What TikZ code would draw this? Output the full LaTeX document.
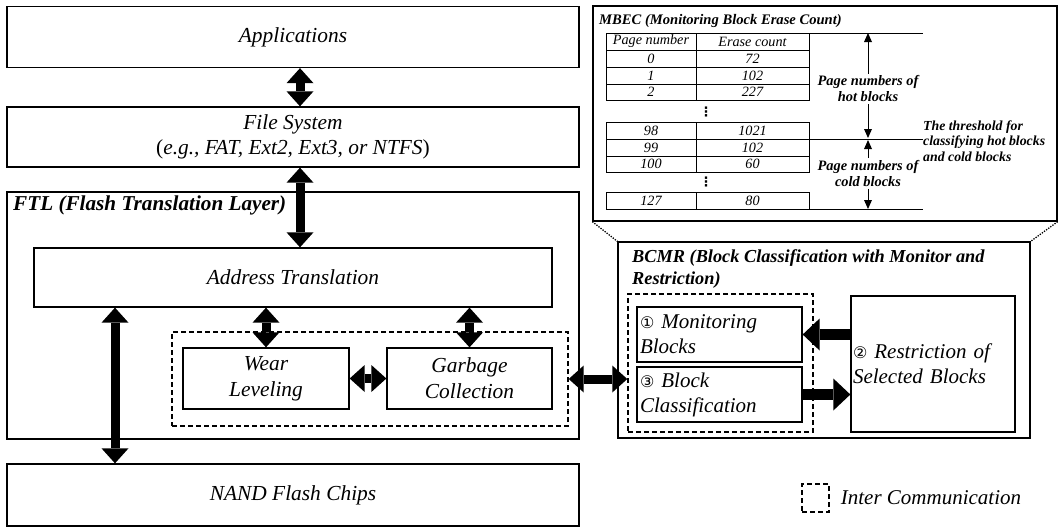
\documentclass[tikz,border=0pt]{standalone}
\usepackage{fontspec}
\setmainfont{Liberation Serif}
\newfontfamily\circfont{DejaVu Sans}
\usetikzlibrary{arrows.meta,positioning}

\newcommand{\numc}[1]{{\circfont\fontsize{16}{16}\selectfont #1}}

\begin{document}
\begin{tikzpicture}[x=1pt,y=-1pt,
  layer/.style={draw,line width=1.3pt,minimum width=572pt,align=center,font=\fontsize{21.4}{25}\selectfont\itshape},
  unit/.style={draw,line width=1.3pt,align=center,inner sep=2pt,font=\fontsize{21.4}{26}\selectfont\itshape},
  part/.style={draw,line width=1.3pt,align=left,inner sep=3pt,font=\fontsize{21}{25}\selectfont\itshape},
  frame/.style={draw,line width=1.3pt,inner sep=0pt},
  group/.style={draw,line width=1.4pt,dash pattern=on 5pt off 3pt,inner sep=0pt},
  title/.style={anchor=west,inner sep=0pt,align=left,font=\fontsize{18.3}{22}\selectfont\bfseries\itshape},
  note/.style={inner sep=2pt,align=center,font=\fontsize{14.4}{16}\selectfont\bfseries\itshape},
  cell/.style={inner sep=0pt,font=\fontsize{14.2}{14}\selectfont\itshape},
  skip/.style={inner sep=0pt,font=\circfont\bfseries\fontsize{13}{13}\selectfont},
  fat/.style={{Triangle[length=15pt,width=27pt,line width=0pt]}-{Triangle[length=15pt,width=27pt,line width=0pt]},line width=9pt},
  push/.style={-{Triangle[length=17pt,width=32pt,line width=0pt]},line width=11pt},
  pointer/.style={-{Triangle[length=9pt,width=8pt,line width=0pt]},line width=0.9pt},
  zoomline/.style={line width=1.3pt,dash pattern=on 1.3pt off 1.3pt}
]
\useasboundingbox (0,0) rectangle (1058,528);

% software stack
\node[layer,minimum height=61pt] (apps) at (293,37) {Applications};
\node[layer,minimum height=60pt] (fs) at (293,137)
  {File System\\\textup{(}e.g., FAT, Ext2, Ext3, or NTFS\textup{)}};
\node[frame,minimum width=572pt,minimum height=247pt] (ftl) at (293,315.5) {};
\node[title,font=\fontsize{21.2}{24}\selectfont\bfseries\itshape] (ftltitle) at (13,205) {FTL (Flash Translation Layer)};
\node[unit,minimum width=518pt,minimum height=59pt] (addr) at (293,277.5) {Address Translation};
\node[group,minimum width=396pt,minimum height=94pt] (ftlgrp) at (370,379) {};
\node[unit,minimum width=166pt,minimum height=61pt] (wl) at (266,378.5) {Wear\\Leveling};
\node[unit,minimum width=165pt,minimum height=61pt] (gc) at (469.5,378.5) {Garbage\\Collection};
\node[layer,minimum height=62pt] (nand) at (293,495) {NAND Flash Chips};

\draw[fat] ([xshift=7pt]apps.south) -- ([xshift=7pt]fs.north);
\draw[fat] ([xshift=7pt]fs.south) -- ([xshift=7pt]addr.north);
\draw[fat] (addr.south -| wl.north) -- (wl.north);
\draw[fat] (addr.south -| gc.north) -- (gc.north);
\draw[fat] (wl.east) -- (gc.west);
\draw[fat] ([xshift=-178pt]addr.south) -- ([xshift=-178pt]nand.north);

% erase count table
\node[frame,minimum width=464pt,minimum height=215pt] (mbec) at (825,113.5) {};
\node[anchor=west,inner sep=0pt,font=\fontsize{14.6}{16}\selectfont\bfseries\itshape] (mbectitle) at (599,21)
  {MBEC (Monitoring Block Erase Count)};
\begin{scope}[line width=0.8pt]
  \foreach \top/\bot in {33/100,122/172,192/209} {
    \draw (606,\top) rectangle (809,\bot);
    \draw (696,\top) -- (696,\bot);
  }
  \foreach \y in {50,67,84,139,156}
    \draw (606,\y) -- (809,\y);
  \draw (809,33) -- (923,33);
  \draw (809,209) -- (923,209);
\end{scope}
\foreach \y/\pn/\ec [count=\i] in {41.5/Page number/Erase count,58.5/0/72,75.5/1/102,92/2/227,
    130.5/98/1021,147.5/99/102,164/100/60,200.5/127/80} {
  \node[cell] (pg\i) at (651,\y) {\pn};
  \node[cell] (ec\i) at (752.5,\y) {\ec};
}
\node[skip] (gap1) at (706,112) {⋮};
\node[skip] (gap2) at (706,182) {⋮};

\coordinate (hottop) at (868,33);
\coordinate (hotbot) at (868,138);
\coordinate (coldtop) at (868,140);
\coordinate (coldbot) at (868,209);
\coordinate (thrleft) at (809,139);
\node[note] (hotlbl) at (868,89) {Page numbers of\\hot blocks};
\node[note] (coldlbl) at (868,173.5) {Page numbers of\\cold blocks};
\node[anchor=west,inner sep=0pt,align=left,font=\fontsize{13.8}{15.5}\selectfont\bfseries\itshape] (thr) at (923,141)
  {The threshold for\\classifying hot blocks\\and cold blocks};
\draw[line width=0.8pt] (thrleft) -- (thrleft -| thr.west);
\draw[pointer] (hotlbl) -- (hottop);
\draw[pointer] (hotlbl) -- (hotbot);
\draw[pointer] (coldlbl) -- (coldtop);
\draw[pointer] (coldlbl) -- (coldbot);

% block classification module
\node[frame,minimum width=412pt,minimum height=196pt] (bcmr) at (824,340) {};
\node[title] (bcmrtitle) at (632,269) {BCMR (Block Classification with Monitor and\\Restriction)};
\node[group,minimum width=185pt,minimum height=138pt] (bcmrgrp) at (720.5,363) {};
\node[part,minimum width=165pt,minimum height=55pt,text width=159pt] (mon) at (719.5,334.5)
  {\numc{①} Monitoring\\Blocks};
\node[part,minimum width=165pt,minimum height=55pt,text width=159pt] (cls) at (719.5,394.5)
  {\numc{③} Block\\Classification};
\node[part,minimum width=164pt,minimum height=136pt,text width=160pt,inner sep=2pt] (rst) at (933,364)
  {\numc{②} Restriction of\\Selected Blocks};

\draw[push] (rst.west |- mon.east) -- (mon.east);
\draw[push] (cls.east) -- (cls.east -| rst.west);
\draw[fat] (ftlgrp.east) -- (ftlgrp.east -| bcmrgrp.west);

\draw[zoomline] (mbec.south west) -- (bcmr.north west);
\draw[zoomline] (mbec.south east) -- (bcmr.north east);

% legend
\node[group,minimum width=27pt,minimum height=28pt] (legbox) at (815.5,498) {};
\node[right=11pt of legbox,inner sep=0pt,font=\fontsize{21}{24}\selectfont\itshape] (legtxt) {Inter Communication};
\end{tikzpicture}
\end{document}
